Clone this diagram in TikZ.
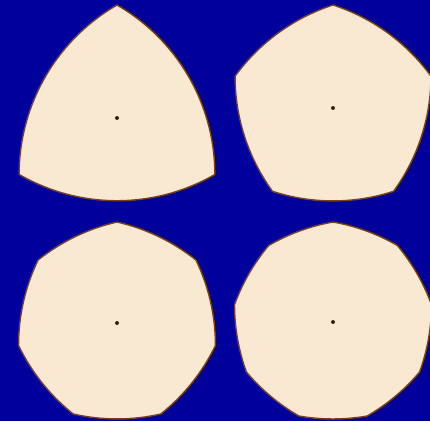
\documentclass[tikz,border=0pt]{standalone}
\usetikzlibrary{calc}
\definecolor{bgblue}{RGB}{0,0,154}
\definecolor{shapefill}{RGB}{250,233,210}
\definecolor{shapeline}{RGB}{120,65,25}
\definecolor{dotcol}{RGB}{50,35,20}

% #1 centre, #2 sides, #3 circumradius (pt)
\newcommand{\reuleaux}[3]{%
  \pgfmathsetmacro{\rwidth}{2*#3*cos(90/#2)}
  \draw[shapeedge] (#1) ++(90:#3pt)
    \foreach \k in {1,...,#2}{
      arc[start angle={90+360*(\k-1)/#2+90/#2}, delta angle={180/#2}, radius=\rwidth pt]
    } -- cycle;
  \fill[centredot] (#1) circle[radius=2pt];
}

\begin{document}
\begin{tikzpicture}[
    shapeedge/.style={fill=shapefill, draw=shapeline, line width=1.4pt, line join=round},
    centredot/.style={dotcol}
  ]
  \fill[bgblue] (0,0) rectangle (430pt,421pt);
  \useasboundingbox (0,0) rectangle (430pt,421pt);

  \coordinate (tri)  at (117pt,303pt);
  \coordinate (pent) at (333pt,313pt);
  \coordinate (hept) at (117pt,98pt);
  \coordinate (non)  at (333pt,99pt);

  \reuleaux{tri}{3}{113}
  \reuleaux{pent}{5}{103}
  \reuleaux{hept}{7}{101}
  \reuleaux{non}{9}{100}
\end{tikzpicture}
\end{document}
